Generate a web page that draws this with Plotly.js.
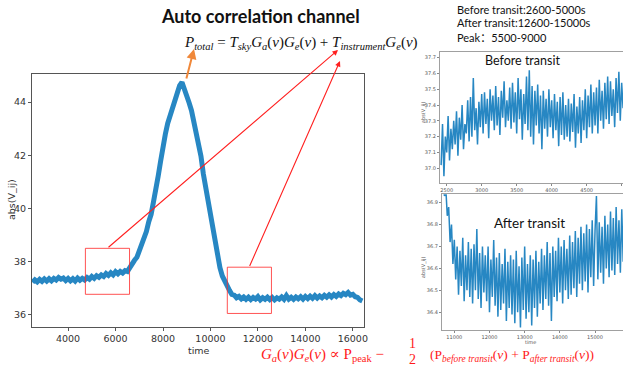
<!DOCTYPE html>
<html>
<head>
<meta charset="utf-8">
<script src="https://cdn.plot.ly/plotly-3.0.1.min.js"></script>
<style>html,body{margin:0;padding:0;background:#fff;}#chart{width:623px;height:366px;}</style>
</head>
<body>
<div id="chart"></div>
<script>
// ---- data ----
// main auto-correlation trace, sampled every 100 s starting at 2500 s
const mainStart = 2500, mainStep = 100;
const mainVals = [
37.22,37.31,37.24,37.33,37.26,37.35,37.27,37.36,37.28,37.37,
37.31,37.40,37.34,37.38,37.29,37.37,37.28,37.36,37.27,37.38,
37.30,37.37,37.31,37.40,37.34,37.44,37.37,37.47,37.41,37.50,
37.44,37.55,37.48,37.58,37.50,37.62,37.54,37.63,37.57,37.66,
37.63,37.79,37.86,38.05,38.16,38.41,38.58,38.87,39.13,39.50,
39.78,40.25,40.68,41.23,41.78,42.43,42.80,43.21,43.50,43.88,
44.16,44.49,44.62,44.75,44.50,44.33,43.98,43.69,43.28,42.97,
42.53,41.97,41.30,40.77,40.18,39.77,39.26,38.72,38.10,37.77,
37.46,37.27,37.03,36.92,36.77,36.74,36.64,36.69,36.60,36.67,
36.58,36.66,36.57,36.65,36.59,36.68,36.56,36.64,36.58,36.66,
36.57,36.65,36.56,36.64,36.59,36.67,36.58,36.72,36.59,36.66,
36.58,36.67,36.60,36.68,36.59,36.69,36.61,36.70,36.62,36.72,
36.63,36.71,36.64,36.73,36.66,36.75,36.67,36.76,36.69,36.78,
36.72,36.81,36.76,36.84,36.74,36.77,36.68,36.65,36.56,36.52
];
// "Before transit" zoom, every 20 s from 2420 s
const beforeStart = 2420, beforeStep = 20;
const beforeVals = [
37.02,37.28,36.95,37.20,37.10,37.33,37.05,37.25,37.12,37.30,
37.15,37.36,37.08,37.32,37.18,37.40,37.12,37.28,37.22,37.43,
37.17,37.45,37.20,37.57,37.24,37.38,37.15,37.42,37.26,37.47,
37.22,37.48,37.28,37.44,37.19,37.50,37.30,37.46,37.24,37.52,
37.27,37.45,37.21,37.49,37.32,37.55,37.26,37.43,37.30,37.51,
37.25,37.54,37.29,37.48,37.22,37.57,37.31,37.50,37.18,37.47,
37.28,37.58,37.24,37.62,37.20,37.52,37.15,37.49,37.27,37.53,
37.22,37.46,37.12,37.49,37.25,37.44,37.20,37.50,37.26,37.43,
37.19,37.47,37.24,37.42,37.14,37.45,37.21,37.48,37.18,37.40,
37.20,37.44,37.17,37.41,37.23,37.47,37.13,37.39,37.22,37.45,
37.16,37.43,37.24,37.50,37.19,37.46,37.26,37.53,37.22,37.48,
37.27,37.51,37.22,37.56,37.30,37.49,37.25,37.54,37.31,37.58,
37.28,37.55,37.33,37.50,37.26,37.57,37.35,37.61,37.30,37.54,
37.38
];
// "After transit" zoom, every 40 s from 10680 s
const afterStart = 10680, afterStep = 40;
const afterVals = [
37.00,36.93,36.96,36.84,36.88,36.72,36.80,36.62,36.73,36.55,
36.70,36.48,36.68,36.52,36.74,36.45,36.66,36.50,36.72,36.47,
36.69,36.44,36.71,36.50,36.78,36.46,36.67,36.42,36.70,36.49,
36.66,36.45,36.70,36.40,36.64,36.47,36.73,36.43,36.65,36.38,
36.67,36.41,36.62,36.44,36.69,36.36,36.63,36.42,36.66,36.39,
36.64,36.35,36.68,36.40,36.61,36.33,36.65,36.41,36.70,36.37,
36.62,36.40,36.66,36.34,36.64,36.42,36.68,36.38,36.63,36.44,
36.69,36.41,36.66,36.46,36.72,36.43,36.67,36.36,36.70,36.47,
36.68,36.45,36.74,36.49,36.70,36.44,36.73,36.50,36.69,36.46,
36.75,36.48,36.72,36.51,36.77,36.47,36.74,36.53,36.79,36.50,
36.76,36.54,36.80,36.49,36.78,36.56,36.82,36.52,36.77,36.93,
36.55,36.81,36.58,36.79,36.53,36.84,36.60,36.80,36.56,36.86,
36.59,36.83,36.57,36.88,36.62,36.82,36.58,36.87,36.63,36.92
];
// highlighted windows on the main plot [x0, x1, y0, y1]
const boxBefore = [4730, 6590, 36.77, 38.5];
const boxAfter = [10710, 12570, 36.05, 37.79];

// ---- helpers for placing page text (pixel -> paper) ----
const W = 623, H = 366;
const px = v => v / W;
const py = v => 1 - v / H;

const blue = '#2787c3';
const sans = 'Lato, "Noto Sans", "Noto Sans CJK SC", sans-serif';
const serif = '"Liberation Serif", "DejaVu Serif", serif';
const dejavu = '"DejaVu Sans", sans-serif';

const traces = [
  {type:'scatter', mode:'lines', x0: mainStart, dx: mainStep, y: mainVals,
   xaxis:'x', yaxis:'y', line:{color: blue, width:5}, hoverinfo:'skip'},
  {type:'scatter', mode:'lines', x0: beforeStart, dx: beforeStep, y: beforeVals,
   xaxis:'x2', yaxis:'y2', line:{color: blue, width:1.5}, hoverinfo:'skip'},
  {type:'scatter', mode:'lines', x0: afterStart, dx: afterStep, y: afterVals,
   xaxis:'x3', yaxis:'y3', line:{color: blue, width:1.5}, hoverinfo:'skip'}
];

function ax(extra, small) {
  return Object.assign({
    showline:true, mirror:true, linecolor: small ? '#a0a0a0' : '#555', linewidth:1,
    ticks:'outside', ticklen: small ? 2 : 3, tickcolor: small ? '#888' : '#555',
    tickfont:{family: dejavu, size: small ? 5 : 9.5, color: small ? '#555' : '#333'},
    showgrid:false, zeroline:false, tickformat:'d'
  }, extra);
}

const ann = [];
function txt(text, x, y, size, opts) {
  ann.push(Object.assign({text, x: px(x), y: py(y), xref:'paper', yref:'paper',
    showarrow:false, xanchor:'left', yanchor:'middle',
    font:{family: sans, size, color:'#111'}}, opts || {}));
}
txt('<b>Auto correlation channel</b>', 260, 16, 18, {xanchor:'center'});
txt('<i>P</i><sub><i>total</i></sub> = <i>T</i><sub><i>sky</i></sub><i>G</i><sub><i>a</i></sub>(<i>ν</i>)<i>G</i><sub><i>e</i></sub>(<i>ν</i>) + <i>T</i><sub><i>instrument</i></sub><i>G</i><sub><i>e</i></sub>(<i>ν</i>)',
    182, 43, 15, {font:{family: serif, size:15, color:'#111'}});
txt('Before transit:2600-5000s', 455, 9.5, 11);
txt('After transit:12600-15000s', 455, 23, 11);
txt('Peak：5500-9000', 455, 37, 11);
txt('Before transit', 483, 61, 12.5);
txt('After transit', 492, 223, 13.5);
// axis titles
txt('time', 199, 350, 9.5, {xanchor:'center', font:{family: dejavu, size:9.5, color:'#333'}});
txt('abs(V_ij)', 11, 200, 9.5, {xanchor:'center', textangle:-90, font:{family: dejavu, size:9.5, color:'#333'}});
txt('abs(V_ij)', 423, 112, 5, {xanchor:'center', textangle:-90, font:{family: dejavu, size:5, color:'#555'}});
txt('abs(V_ij)', 423, 267, 5, {xanchor:'center', textangle:-90, font:{family: dejavu, size:5, color:'#555'}});
txt('time', 530, 342, 5, {xanchor:'center', font:{family: dejavu, size:5, color:'#555'}});
// red formula
const red = '#ff1a1a';
txt('<i>G</i><sub><i>a</i></sub>(<i>ν</i>)<i>G</i><sub><i>e</i></sub>(<i>ν</i>) ∝ P<sub>peak</sub> −', 259, 355, 15, {font:{family: serif, size:15, color: red}});
txt('1', 413, 343, 14, {xanchor:'center', font:{family: serif, size:14, color: red}});
txt('2', 413, 359, 14, {xanchor:'center', font:{family: serif, size:14, color: red}});
txt('(P<sub><i>before transit</i></sub>(<i>ν</i>) + P<sub><i>after transit</i></sub>(<i>ν</i>))', 428, 355, 13.5, {font:{family: serif, size:13.5, color: red}});

// arrows (head position, tail offset in px)
function arrow(hx, hy, tx, ty, color, width) {
  ann.push({text:'', x: px(hx), y: py(hy), xref:'paper', yref:'paper', showarrow:true,
    ax: tx - hx, ay: ty - hy, arrowcolor: color, arrowwidth: width, arrowhead:2, arrowsize:1, standoff:0});
}
arrow(338, 50, 107, 248.5, '#ff2020', 1.1);
arrow(340, 61, 249, 267.5, '#ff2020', 1.1);
arrow(194, 49, 186, 80, '#f0883a', 2);

const shapes = [boxBefore, boxAfter].map(b => ({type:'rect', xref:'x', yref:'y',
  x0:b[0], x1:b[1], y0:b[2], y1:b[3], line:{color:'rgba(255,40,40,0.8)', width:1}}));

const layout = {
  width: W, height: H, margin:{l:0,r:0,t:0,b:0},
  paper_bgcolor:'#fff', plot_bgcolor:'#fff', showlegend:false,
  xaxis: ax({domain:[px(32), px(364)], range:[2480,16470], dtick:2000, tick0:0, anchor:'y'}),
  yaxis: ax({domain:[py(327), py(74)], range:[35.54,45.06], dtick:2, tick0:0, anchor:'x'}),
  xaxis2: ax({domain:[px(440), 1], range:[2404,5019], dtick:500, tick0:0, anchor:'y2'}, true),
  yaxis2: ax({domain:[py(183), py(52)], range:[36.907,37.735], dtick:0.1, tick0:0, tickformat:'.1f', anchor:'x2'}, true),
  xaxis3: ax({domain:[px(442), 1], range:[10650,15795], dtick:1000, tick0:0, anchor:'y3'}, true),
  yaxis3: ax({domain:[py(330), py(194.3)], range:[36.319,36.938], dtick:0.1, tick0:0, tickformat:'.1f', anchor:'x3'}, true),
  annotations: ann, shapes: shapes
};

Plotly.newPlot('chart', traces, layout, {displayModeBar:false, staticPlot:true});
</script>
</body>
</html>
